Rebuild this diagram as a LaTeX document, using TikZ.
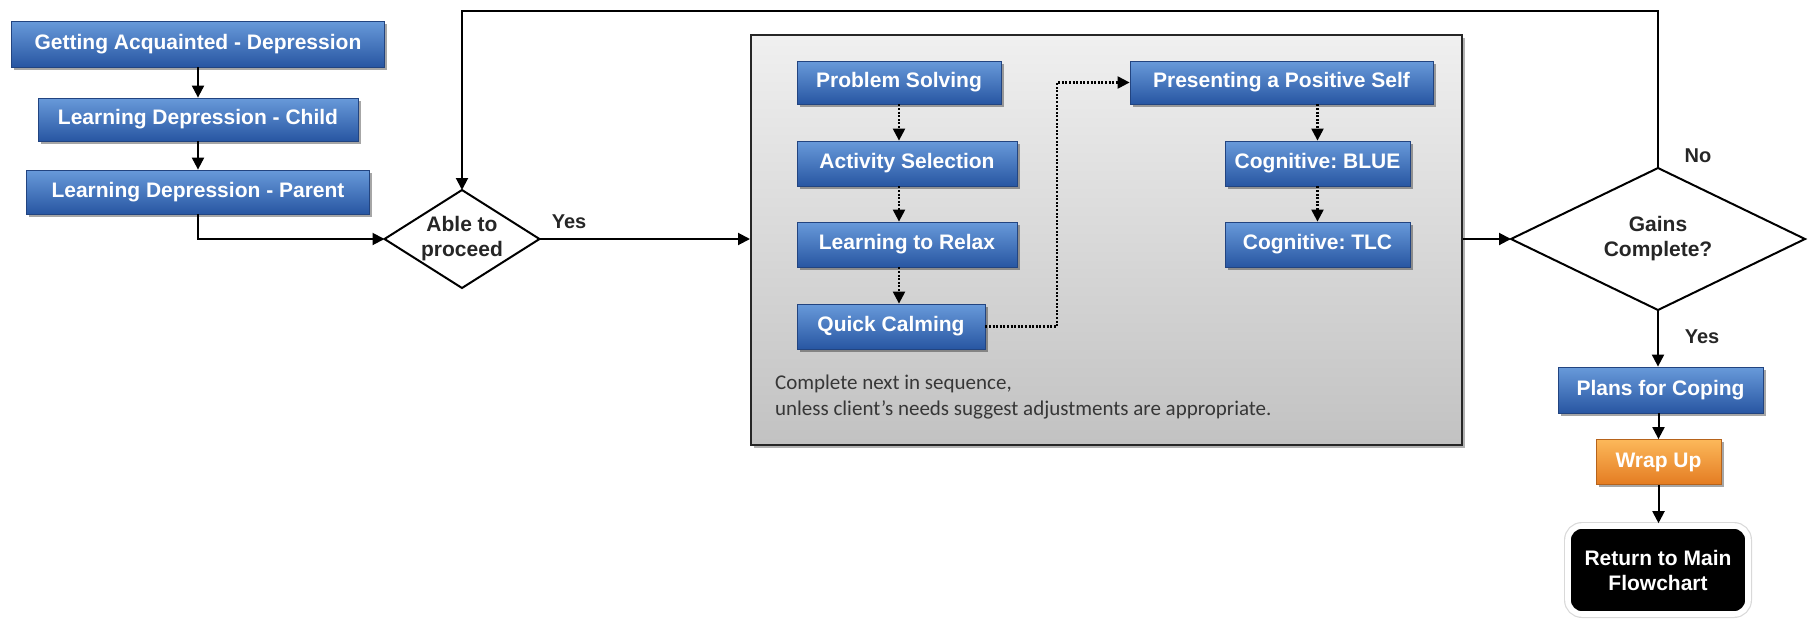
\documentclass[tikz,border=0pt]{standalone}
\usepackage{fontspec}
\setsansfont{Liberation Sans}
\newfontfamily\notefont{Carlito}
\usetikzlibrary{arrows.meta,shapes.geometric,shadows}
\definecolor{bluetop}{RGB}{104,154,218}
\definecolor{bluebot}{RGB}{40,86,162}
\definecolor{blueedge}{RGB}{34,68,128}
\definecolor{orangetop}{RGB}{252,184,90}
\definecolor{orangebot}{RGB}{228,124,34}
\definecolor{notegray}{RGB}{55,55,55}
\frenchspacing
\begin{document}
\begin{tikzpicture}[x=0.5pt,y=-0.5pt,
  boxfont/.style={font=\sffamily\bfseries\fontsize{10.5}{12.5}\selectfont},
  bluebox/.style={rectangle, draw=blueedge, line width=0.4pt, top color=bluetop, bottom color=bluebot,
    text=white, boxfont, inner sep=0pt,
    drop shadow={shadow xshift=1.3pt, shadow yshift=-1.3pt, fill=black, opacity=0.35}},
  orangebox/.style={bluebox, draw=orangebot!80!black, top color=orangetop, bottom color=orangebot},
  endbox/.style={rectangle, rounded corners=7pt, fill=black, text=white, boxfont, align=center,
    preaction={draw=black!15, line width=4pt}, draw=white, line width=2.8pt},
  graybox/.style={rectangle, draw=black!85, line width=1pt, top color=black!6, bottom color=black!24,
    drop shadow={shadow xshift=1.5pt, shadow yshift=-1.5pt, fill=black, opacity=0.3}},
  decision/.style={diamond, draw=black, line width=1pt, fill=white, inner sep=0pt, outer sep=0pt},
  dtext/.style={boxfont, text=black!85, align=center},
  lbl/.style={font=\sffamily\bfseries\fontsize{10}{12}\selectfont, text=black!85},
  conn/.style={line width=1pt, -{Triangle[length=6pt,width=6pt]}},
  plain/.style={line width=1pt},
  dotconn/.style={line width=1.1pt, dash pattern=on 1pt off 0.8pt, -{Triangle[length=6pt,width=6pt]}},
  dotplain/.style={line width=1.1pt, dash pattern=on 1pt off 0.8pt}
]
\useasboundingbox (0,0) rectangle (1812,622);

% left column
\node[bluebox, minimum width=186.5pt, minimum height=23pt] (b1) at (198,44) {Getting Acquainted - Depression};
\node[bluebox, minimum width=160pt, minimum height=21.5pt] (b2) at (198,119.5) {Learning Depression - Child};
\node[bluebox, minimum width=171.5pt, minimum height=22pt] (b3) at (198,192) {Learning Depression - Parent};

% decision 1
\node[decision, minimum width=77.5pt, minimum height=49pt] (d1) at (462,239) {};
\node[dtext] (d1t) at (d1.center) {Able to\\proceed};

% gray container
\node[graybox, minimum width=355.5pt, minimum height=205pt] (gb) at (1106.5,240) {};

\node[bluebox, minimum width=102pt, minimum height=21.5pt] (ps) at (899,82.5) {Problem Solving};
\node[bluebox, minimum width=110pt, minimum height=22.5pt] (as) at (907,163.5) {Activity Selection};
\node[bluebox, minimum width=110pt, minimum height=22.5pt] (lr) at (907,244.5) {Learning to Relax};
\node[bluebox, minimum width=94pt, minimum height=22.5pt] (qc) at (891,326.5) {Quick Calming};

\node[bluebox, minimum width=151.5pt, minimum height=21.5pt] (pp) at (1281.5,82.5) {Presenting a Positive Self};
\node[bluebox, minimum width=92.5pt, minimum height=22.5pt] (cb) at (1317.5,163.5) {Cognitive: BLUE};
\node[bluebox, minimum width=92.5pt, minimum height=22.5pt] (ct) at (1317.5,244.5) {Cognitive: TLC};

\node[anchor=west, align=left, text=notegray, font=\notefont\fontsize{10.5}{13}\selectfont] (note) at (768,397)
  {Complete next in sequence,\\unless client’s needs suggest adjustments are appropriate.};

% decision 2
\node[decision, minimum width=147pt, minimum height=71pt] (d2) at (1658,239) {};
\node[dtext] (d2t) at (d2.center) {Gains\\Complete?};

% right column
\node[bluebox, minimum width=102.5pt, minimum height=23pt] (pc) at (1660.5,390) {Plans for Coping};
\node[orangebox, minimum width=62.5pt, minimum height=22.5pt] (wu) at (1658.5,462) {Wrap Up};
\node[endbox, minimum width=90pt, minimum height=44pt] (rm) at (1658,570) {Return to Main\\Flowchart};

% labels
\node[lbl] (yes1) at (569,222) {Yes};
\node[lbl] (no) at (1698,156) {No};
\node[lbl] (yes2) at (1702,337) {Yes};

% connectors
\draw[conn] (b1.south) -- (b2.north);
\draw[conn] (b2.south) -- (b3.north);
\draw[conn] (b3.south) |- (d1.west);
\draw[conn] (d1.east) -- (d1.east -| gb.west);

\draw[dotconn] (ps.south -| ps.center) -- (ps.center |- as.north);
\draw[dotconn] (ps.center |- as.south) -- (ps.center |- lr.north);
\draw[dotconn] (ps.center |- lr.south) -- (ps.center |- qc.north);
\coordinate (bend) at (1057,326.5);
\draw[dotconn] (qc.east) -- (bend) |- (pp.west);
\draw[dotconn] (cb.center |- pp.south) -- (cb.north);
\draw[dotconn] (cb.south) -- (ct.north);

\draw[conn] (gb.east |- d2.west) -- (d2.west);
\coordinate (toprow) at (0,11);
\draw[conn] (d2.north) -- (d2.north |- toprow) -| (d1.north);
\draw[conn] (d2.south) -- (d2.south |- pc.north);
\draw[conn] (wu.center |- pc.south) -- (wu.north);
\draw[conn] (wu.south) -- (rm.north -| wu.south);
\end{tikzpicture}
\end{document}
